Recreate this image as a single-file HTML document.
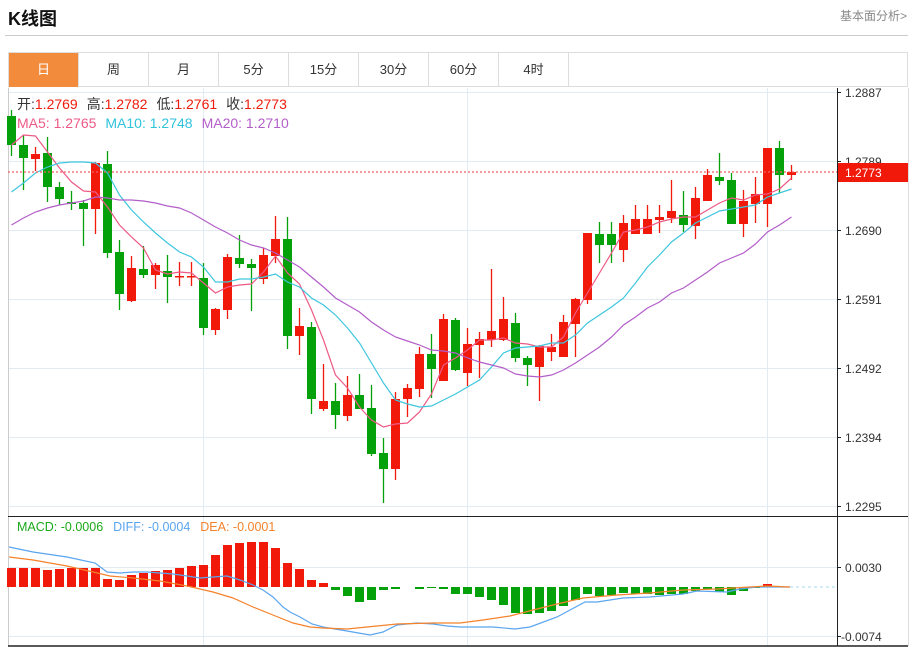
<!DOCTYPE html>
<html><head><meta charset="utf-8">
<style>
html,body{margin:0;padding:0;background:#fff;width:913px;height:647px;overflow:hidden;font-family:"Liberation Sans","Noto Sans CJK SC",sans-serif;}
#t{position:absolute;left:8px;top:5px;font-size:18px;font-weight:bold;color:#111;}
#r{position:absolute;right:6px;top:7px;font-size:12px;color:#888;}
#hl{position:absolute;left:5px;top:35px;width:903px;height:1px;background:#ccc;}
#tabs{position:absolute;left:8px;top:52px;width:900px;height:35px;border:1px solid #ddd;box-sizing:border-box;}
.tab{position:absolute;top:0;height:34px;width:70px;line-height:34px;text-align:center;font-size:13px;color:#333;border-right:1px solid #ddd;box-sizing:border-box;}
.on{background:#f28c3c;color:#fff;}
svg{position:absolute;left:0;top:0;}
</style></head><body>
<div id="t">K线图</div><div id="r">基本面分析&gt;</div><div id="hl"></div>
<div id="tabs">
<div class="tab on" style="left:0">日</div><div class="tab" style="left:70px">周</div><div class="tab" style="left:140px">月</div><div class="tab" style="left:210px">5分</div><div class="tab" style="left:280px">15分</div><div class="tab" style="left:350px">30分</div><div class="tab" style="left:420px">60分</div><div class="tab" style="left:490px">4时</div>
</div>
<svg id="s" width="913" height="647" xmlns="http://www.w3.org/2000/svg" font-family="Liberation Sans, Noto Sans CJK SC, sans-serif">
<g stroke="#e3ebf2" stroke-width="1">
<line x1="8" y1="92.5" x2="837" y2="92.5"/><line x1="8" y1="161.5" x2="837" y2="161.5"/><line x1="8" y1="230.5" x2="837" y2="230.5"/><line x1="8" y1="299.5" x2="837" y2="299.5"/><line x1="8" y1="368.5" x2="837" y2="368.5"/><line x1="8" y1="437.5" x2="837" y2="437.5"/><line x1="8" y1="506.5" x2="837" y2="506.5"/>
<line x1="8" y1="567.5" x2="837" y2="567.5"/><line x1="8" y1="636.5" x2="837" y2="636.5"/>
<line x1="203.5" y1="88" x2="203.5" y2="646"/><line x1="467.5" y1="88" x2="467.5" y2="646"/><line x1="767.5" y1="88" x2="767.5" y2="646"/>
</g>
<line x1="8.5" y1="88" x2="8.5" y2="646" stroke="#ccc"/>
<line x1="908.5" y1="88" x2="908.5" y2="646" stroke="#ddd"/>
<line x1="8" y1="516.5" x2="908" y2="516.5" stroke="#222"/>
<line x1="8" y1="646" x2="908" y2="646" stroke="#222" stroke-width="1.5"/>
<line x1="837.5" y1="88" x2="837.5" y2="646" stroke="#222"/>
<g id="cd"></g>
<g id="ml" fill="none" stroke-width="1.2"></g>
<line x1="8" y1="172" x2="837" y2="172" stroke="#f06060" stroke-dasharray="2,2" stroke-width="1.2"/>
<line x1="790" y1="587" x2="837" y2="587" stroke="#a8d8ee" stroke-dasharray="3,3"/>
<g font-size="12" fill="#333">
<line x1="837" y1="92.5" x2="841" y2="92.5" stroke="#222"/><text x="845" y="97">1.2887</text>
<line x1="837" y1="161.5" x2="841" y2="161.5" stroke="#222"/><text x="845" y="166">1.2789</text>
<line x1="837" y1="230.5" x2="841" y2="230.5" stroke="#222"/><text x="845" y="235">1.2690</text>
<line x1="837" y1="299.5" x2="841" y2="299.5" stroke="#222"/><text x="845" y="304">1.2591</text>
<line x1="837" y1="368.5" x2="841" y2="368.5" stroke="#222"/><text x="845" y="373">1.2492</text>
<line x1="837" y1="437.5" x2="841" y2="437.5" stroke="#222"/><text x="845" y="442">1.2394</text>
<line x1="837" y1="506.5" x2="841" y2="506.5" stroke="#222"/><text x="845" y="511">1.2295</text>
<line x1="837" y1="567.5" x2="841" y2="567.5" stroke="#222"/><text x="845" y="572">0.0030</text>
<line x1="837" y1="636.5" x2="841" y2="636.5" stroke="#222"/><text x="841" y="641">-0.0074</text>
</g>
<rect x="838" y="163" width="70" height="19" fill="#f0190a"/>
<text x="845" y="177" font-size="12" fill="#fff">1.2773</text>
<g font-size="14">
<text x="17" y="109"><tspan fill="#333">开:</tspan><tspan fill="#ee1c0b">1.2769</tspan><tspan fill="#333" dx="9">高:</tspan><tspan fill="#ee1c0b">1.2782</tspan><tspan fill="#333" dx="9">低:</tspan><tspan fill="#ee1c0b">1.2761</tspan><tspan fill="#333" dx="9">收:</tspan><tspan fill="#ee1c0b">1.2773</tspan></text>
<text x="17" y="128"><tspan fill="#ee5a85">MA5: 1.2765</tspan><tspan fill="#2fc3dc" dx="9">MA10: 1.2748</tspan><tspan fill="#b35ec9" dx="9">MA20: 1.2710</tspan></text>
<text x="17" y="531" font-size="12.5"><tspan fill="#1aaa1a">MACD: -0.0006</tspan><tspan fill="#5aa5ef" dx="10">DIFF: -0.0004</tspan><tspan fill="#f5822b" dx="10">DEA: -0.0001</tspan></text>
</g>
</svg>
<script>
var R="#f0190a",G="#04a10a";
var C=[[G,116,145,110,156],[G,145,158,135,190],[R,154,159,147,171],[G,153,187,137,202],[G,187,199,182,205],[G,202,204,191,210],[G,203,209,200,246],[R,163,209,162,234],[G,164,253,151,258],[G,252,294,240,310],[R,268,301,256,302],[G,269,275,246,278],[R,265,275,263,289],[G,271,277,255,303],[R,276,277,262,286],[R,276,277,262,286],[G,278,328,263,335],[R,309,330,308,335],[R,257,310,254,319],[G,258,264,235,268],[G,264,268,259,311],[R,255,279,248,284],[R,239,256,216,263],[G,239,336,217,349],[R,326,336,308,355],[G,327,399,322,414],[R,401,409,364,411],[G,401,415,383,429],[R,395,416,376,421],[G,395,409,374,409],[G,408,454,385,456],[G,453,469,438,503],[R,399,469,392,480],[R,388,399,384,417],[R,354,389,347,397],[G,354,369,334,398],[R,319,381,314,381],[G,320,370,318,371],[R,344,373,328,386],[R,339,345,332,378],[R,331,340,269,347],[R,319,340,297,341],[G,323,358,313,362],[G,358,365,356,386],[R,346,367,345,401],[R,347,352,334,361],[R,322,357,315,357],[R,299,324,298,357],[R,233,300,233,304],[G,234,245,222,263],[G,234,245,222,263],[R,223,250,215,262],[R,219,234,205,234],[R,219,234,205,234],[R,217,220,205,233],[R,211,218,180,223],[G,215,225,191,232],[R,198,226,187,239],[R,175,201,169,201],[G,177,181,153,185],[G,180,224,173,224],[R,201,224,190,237],[R,194,204,177,223],[R,148,204,148,227],[G,148,175,141,193],[R,172,175,165,180]];
var H=[568,568,568,570,569,568,568,568,579,580,575,573,571,570,568,566,565,555,545,543,542,542,548,563,569,580,583,590,596,602,600,590,589,587.5,589,588,589,594,594,597,600,605,613,614,613,611,606,600,594,596,595,593,594,594,595,594,594,591,589,592,595,591,588,584,587,587];
var cd=document.getElementById("cd"),h="";
C.forEach(function(c,i){var x=11.5+12*i;h+='<line x1="'+x+'" y1="'+c[3]+'" x2="'+x+'" y2="'+c[4]+'" stroke="'+c[0]+'" stroke-width="1.3"/>';h+='<rect x="'+(x-4.5)+'" y="'+c[1]+'" width="9" height="'+Math.max(1.5,c[2]-c[1])+'" fill="'+c[0]+'"/>';});
H.forEach(function(v,i){var x=11.5+12*i;var col=v<587?R:G;var y=Math.min(v,587),hh=Math.abs(v-587);if(hh<0.8)return;h+='<rect x="'+(x-4.5)+'" y="'+y+'" width="9" height="'+hh+'" fill="'+col+'"/>';});
cd.innerHTML=h;
function pl(pts,col){return '<polyline points="'+pts+'" stroke="'+col+'"/>';}
function idx(ys){return ys.map(function(y,i){return (11.5+12*i)+","+y;}).join(" ");}
var ma5=[145,135,136,152,168,182,191,192,207,225,237,248,270,274,272,273,283,293,287,285,284,272,256,273,284,310,340,375,388,407,420,427,424,423,412,394,365,358,350,340,340,338,343,344,347,347,337,313,293,273,253,232,230,227,222,219,217,217,210,203,198,200,195,194,189,178];
var ma10=[192,183,173,167,163,162,162,163,173,195,210,222,233,243,252,257,267,282,282,279,279,277,274,282,287,298,305,315,328,343,363,383,400,404,407,406,400,394,387,380,367,353,348,347,346,343,343,335,323,315,307,298,283,267,255,242,233,223,217,211,209,207,205,197,193,189];
var ma20=[225,218,212,208,205,203,201,197,198,200,200,201,203,206,208,213,220,227,233,240,245,248,253,260,267,277,287,298,305,312,322,330,337,341,345,350,351,353,358,362,365,368,374,376,377,375,370,363,355,347,337,325,317,308,302,293,288,280,272,263,258,253,244,232,225,217];
var dif=[[9,547],[33,552],[67,557],[95,563],[107,572],[120,573],[133,572],[147,572],[160,573],[173,574],[187,576],[200,578],[213,577],[227,576],[240,580],[253,585],[263,590],[273,597],[283,607],[290,612],[300,617],[312,624],[323,627],[347,631],[370,635],[383,632],[397,625],[417,623],[433,624],[447,626],[460,627],[493,627],[515,629],[530,627],[557,617],[585,602],[597,602],[623,598],[650,597],[683,594],[697,591],[727,592],[740,589],[757,587],[767,587],[790,587]];
var dea=[[9,557],[33,560],[67,566],[93,572],[110,576],[133,578],[160,581],[187,586],[213,592],[233,598],[253,607],[273,615],[293,623],[310,627],[323,628],[347,629],[367,627],[397,624],[433,623],[460,623],[483,620],[510,616],[537,609],[557,604],[583,598],[617,595],[650,593],[683,590],[717,589],[750,587],[767,586],[790,587]];
function P(a){return a.map(function(p){return p[0]+","+p[1];}).join(" ");}
document.getElementById("ml").innerHTML=pl(idx(ma5),"#ee5a85")+pl(idx(ma10),"#3ec6de")+pl(idx(ma20),"#b35ec9")+pl(P(dif),"#5aa5ef")+pl(P(dea),"#f5822b");
</script>
</body></html>
